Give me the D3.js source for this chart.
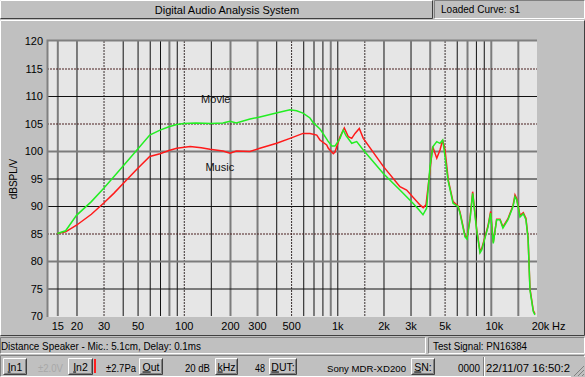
<!DOCTYPE html>
<html><head><meta charset="utf-8">
<script src="https://cdn.jsdelivr.net/npm/d3@7"></script>
<style>
html,body{margin:0;padding:0;background:#c0c0c0;}
svg{display:block;font-family:"Liberation Sans",Arial,sans-serif;}
</style></head><body>
<svg id="c" width="585" height="377"></svg>
<script>
// ---------- data ----------
const movieFreq = [15,17,20,25,30,35,40,50,60,70,80,90,100,120,150,180,200,220,270,313,400,492,543,598,664,695,771,807,870,920,966,1042,1094,1140,1242,1338,1477,1994,2559,3112,3400,3616,3820,4018,4200,4446,4668,4860,5032,5262,5676,6114,6300,6792,6998,7322,7620,8090,8510,8730,9170,9594,9980,10380,10920,11480,12000,12940,13960,14380,14760,15500,16290,16940,17500,18000,18920,19400];
const movieDb   = [85,85.5,88.3,90.8,93.2,95.3,97.2,100.3,102.9,103.8,104.4,104.8,105.0,105.1,105.0,105.1,105.4,105.1,105.8,106.2,106.9,107.5,107.3,106.9,106.0,105.2,104.0,103.2,101.8,100.9,100.9,102.3,103.8,102.8,101.4,101.7,100.2,95.9,92.9,90.5,89.3,88.4,89.6,97.2,100.8,101.7,101.4,102.0,99.0,94.7,90.5,89.9,88.7,84.4,84.0,87.5,92.3,85.6,81.5,82.0,84.2,86.2,88.7,83.2,87.5,87.5,86.0,87.5,89.9,91.7,91.1,88.0,88.6,87.5,84.0,74.7,70.8,70.2];
const musicFreq = [15,17,20,25,30,35,40,50,60,70,80,90,110,130,148,180,200,220,270,313,403,492,598,664,735,771,853,874,942,966,1042,1111,1180,1242,1305,1391,1477,1994,2559,2830,3456,3630,3784,3972,4180,4446,4668,4860,5032,5285,5676,6114,6300,6792,6998,7322,7620,8090,8510,8730,9170,9594,9980,10380,10920,11480,12000,12940,13960,14380,14760,15500,16290,16940,17500,18000,18920,19400];
const musicDb   = [85,85.3,86.5,88.5,90.5,92.3,94.0,96.8,99.0,99.5,100.1,100.5,100.8,100.6,100.3,100.0,99.6,100.0,99.9,100.5,101.4,102.3,103.2,103.2,102.9,102.0,101.1,100.5,99.5,99.8,102.6,104.2,102.6,102.3,103.2,104.1,102.3,97.2,93.5,92.9,90.2,89.7,90.2,95.3,100.8,98.7,100.2,102.0,100.2,94.7,90.8,90.0,88.9,84.6,84.2,87.7,92.6,85.8,81.7,82.3,84.4,86.4,89.0,83.4,87.6,87.6,86.2,87.7,90.1,92.0,91.3,88.3,88.8,87.8,84.2,75.0,71.0,70.4];

const yTicks = [70,75,80,85,90,95,100,105,110,115,120];
const xGrid = [15,20,30,40,50,60,70,80,90,100,150,200,300,400,500,600,700,800,900,1000,1500,2000,3000,4000,5000,6000,7000,8000,9000,10000,15000];
const xLabelFreqs = [15,20,30,50,100,200,300,500,1000,2000,3000,5000,10000,20000];
const xLabelTexts = ["15","20","30","50","100","200","300","500","1k","2k","3k","5k","10k","20k"];
const seriesNames = ["Movie","Music"];

const svg = d3.select("#c");
const W = 585, H = 377;

// ---------- helpers ----------
function bevel(g, x, y, w, h, sunken, fill) {
  g.append("rect").attr("x",x).attr("y",y).attr("width",w).attr("height",h).attr("fill",fill||"#c0c0c0");
  const tl = sunken ? "#808080" : "#ffffff";
  const br = sunken ? "#ffffff" : "#404040";
  g.append("path").attr("d",`M${x+0.5},${y+h-0.5}V${y+0.5}H${x+w-0.5}`).attr("stroke",tl).attr("fill","none");
  g.append("path").attr("d",`M${x+0.5},${y+h-0.5}H${x+w-0.5}V${y+0.5}`).attr("stroke",br).attr("fill","none");
}
function button(g, x, y, w, h, txt, ul) {
  bevel(g, x, y, w, h, false);
  g.append("path").attr("d",`M${x+1.5},${y+h-1.5}H${x+w-1.5}V${y+1.5}`).attr("stroke","#808080").attr("fill","none");
  const t = g.append("text").attr("x",x+w/2).attr("y",y+h-4.5).attr("text-anchor","middle")
    .attr("font-size",10.5).attr("fill","#000");
  t.append("tspan").attr("text-decoration","underline").text(txt.slice(0,ul));
  t.append("tspan").text(txt.slice(ul));
}
function label(g, x, y, txt, anchor, color, len, size) {
  const t = g.append("text").attr("x",x).attr("y",y).attr("text-anchor",anchor||"start")
    .attr("font-size",size||11).attr("fill",color||"#000").text(txt);
  if (len) t.attr("textLength",len).attr("lengthAdjust","spacingAndGlyphs");
  return t;
}

svg.append("rect").attr("width",W).attr("height",H).attr("fill","#c0c0c0");

// ---------- title bar ----------
const titleG = svg.append("g");
bevel(titleG, 0, 0, 433, 19, false);
label(titleG, 227, 14, "Digital Audio Analysis System", "middle");
bevel(titleG, 434, 0, 151, 19, true);
label(titleG, 441, 13, "Loaded Curve: s1", "start", "#000", 79, 10.5);

// ---------- chart panel ----------
bevel(svg, 0, 20, 585, 316, false);

const x = d3.scaleLog().domain([12.85, 20000]).range([47, 537]);
const y = d3.scaleLinear().domain([70, 120]).range([316, 41]);

svg.append("rect").attr("x",47).attr("y",40).attr("width",490).attr("height",277).attr("fill","#e6e6e6");

const grayF = new Set([15,80,200,300,900,4000,7000,10000,15000]);
const dotF = new Set([30,100,500,1500,5000]);

// vertical grid
const gx = svg.append("g").attr("transform","translate(0,316)")
  .call(d3.axisBottom(x).tickValues(xGrid).tickSize(-275).tickFormat(""));
gx.select(".domain").remove();
gx.selectAll(".tick line")
  .attr("stroke", d => grayF.has(d) ? "#7c7c7c" : (dotF.has(d) ? "#3a3030" : "#111"))
  .attr("stroke-width", d => grayF.has(d) ? 2 : 1)
  .attr("stroke-dasharray", d => dotF.has(d) ? "2,1" : null);

// horizontal grid
const hGray = new Set([100,80]);
const hDot = new Set([115,105,85]);
const gy = svg.append("g").attr("transform","translate(47,0)")
  .call(d3.axisLeft(y).tickValues(yTicks.filter(v => v > 70 && v < 120)).tickSize(-490).tickFormat(""));
gy.select(".domain").remove();
gy.selectAll(".tick line")
  .attr("stroke", d => hGray.has(d) ? "#7c7c7c" : (hDot.has(d) ? "#4a2020" : "#111"))
  .attr("stroke-width", d => hGray.has(d) ? 2 : 1)
  .attr("stroke-dasharray", d => hDot.has(d) ? "2,1" : null);

// plot border
svg.append("path").attr("d","M47.5,317V40.5H537").attr("stroke","#808080").attr("stroke-width",2).attr("fill","none");

// y labels
const yl = svg.append("g").attr("transform","translate(47,0)")
  .call(d3.axisLeft(y).tickValues(yTicks).tickSize(0).tickPadding(4));
yl.select(".domain").remove();
yl.selectAll("text").attr("font-size",11).attr("font-family","Liberation Sans, Arial, sans-serif").attr("fill","#000");

// x labels
const xl = svg.append("g").attr("transform","translate(0,317)")
  .call(d3.axisBottom(x).tickValues(xLabelFreqs).tickSize(0).tickPadding(5)
    .tickFormat((d,i) => xLabelTexts[i]));
xl.select(".domain").remove();
xl.selectAll("text").attr("font-size",11).attr("font-family","Liberation Sans, Arial, sans-serif").attr("fill","#000")
  .attr("dx", d => d >= 10000 ? 3 : 0);
label(svg, x(20000)+15, 330, "Hz");

// y axis title
svg.append("text").attr("transform","translate(17,179) rotate(-90)")
  .attr("text-anchor","middle").attr("font-size",10).text("dBSPL/V");

// ---------- curves ----------
const line = d3.line().x(d => x(d[0])).y(d => y(d[1]));
const music = musicFreq.map((f,i) => [f, musicDb[i]]);
const movie = movieFreq.map((f,i) => [f, movieDb[i]]);
svg.append("path").datum(music).attr("d",line).attr("fill","none").attr("stroke","#ff1a1a").attr("stroke-width",1.5);
svg.append("path").datum(movie).attr("d",line).attr("fill","none").attr("stroke","#22ee22").attr("stroke-width",1.5);

label(svg, x(100)+32, 103, seriesNames[0], "middle", "#111");
label(svg, x(100)+36, 171, seriesNames[1], "middle", "#111");

// ---------- status row 1 ----------
bevel(svg, 0, 337, 426, 17, true);
label(svg, 1, 350, "Distance Speaker - Mic.: 5.1cm, Delay: 0.1ms", "start", "#000", 200, 10);
bevel(svg, 428, 337, 157, 17, true);
label(svg, 433, 350, "Test Signal: PN16384", "start", "#000", 94, 10);

// ---------- status row 2 ----------
const sb = svg.append("g");
bevel(sb, 0, 355, 585, 22, true);
button(sb, 3, 358, 24, 17, "In1", 1);
label(sb, 38, 372, "±2.0V", "start", "#a8a8a8", 25, 10);
button(sb, 68, 358, 25, 17, "In2", 1);
sb.append("rect").attr("x",94).attr("y",359).attr("width",2).attr("height",14).attr("fill","#ff2020");
label(sb, 106, 372, "±2.7Pa", "start", "#000", 30, 10);
button(sb, 139, 358, 24, 17, "Out", 1);
label(sb, 185, 372, "20 dB", "start", "#000", 25, 10);
button(sb, 215, 358, 23, 17, "kHz", 1);
label(sb, 255, 372, "48", "start", "#000", 10, 10);
button(sb, 269, 358, 28, 17, "DUT:", 1);
label(sb, 327, 372, "Sony MDR-XD200", "start", "#000", 79, 9.6);
button(sb, 411, 358, 24, 17, "SN:", 1);
label(sb, 458, 372, "0000", "start", "#000", 22, 10);
sb.append("path").attr("d","M483.5,357V376").attr("stroke","#808080");
sb.append("path").attr("d","M484.5,357V376").attr("stroke","#fff");
label(sb, 486, 372, "22/11/07  16:50:2", "start", "#000", 84, 10);
sb.append("rect").attr("x",571).attr("y",357).attr("width",14).attr("height",20).attr("fill","#c0c0c0");
for (let k = 0; k < 3; k++) {
  sb.append("path").attr("d",`M${574+k*4},376L584,${366+k*4}`).attr("stroke","#808080");
}
</script>
</body></html>
